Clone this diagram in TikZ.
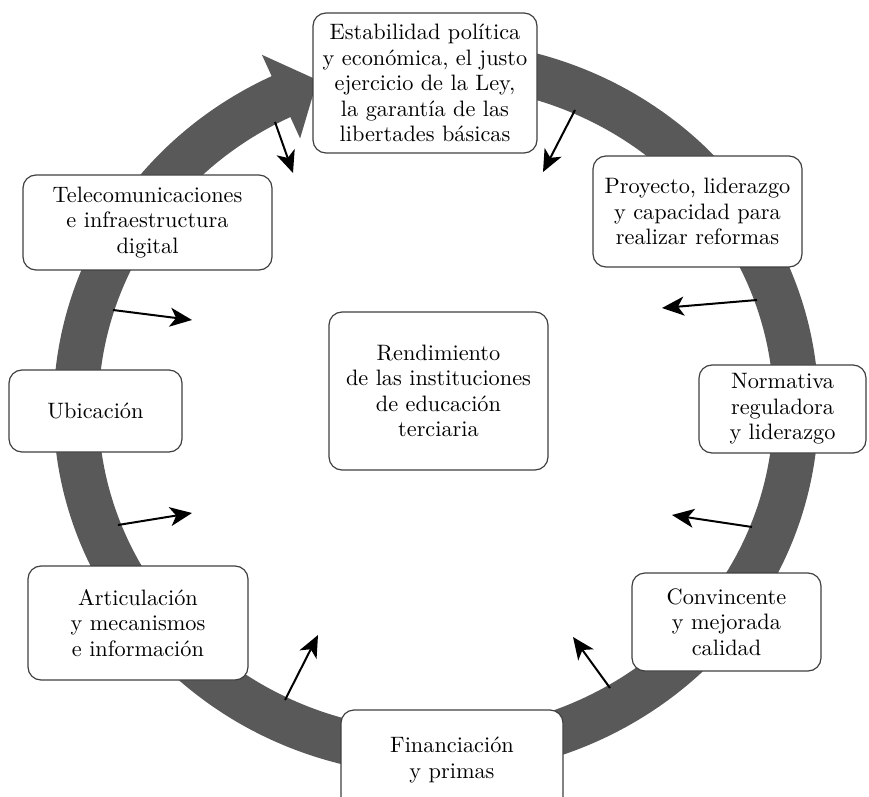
\documentclass[tikz,border=0pt]{standalone}
\usepackage{fontspec}
\setmainfont{lmroman10-regular.otf}
\usetikzlibrary{arrows.meta}
\definecolor{ringgray}{RGB}{89,89,89}
\definecolor{boxline}{RGB}{64,64,64}
\tikzset{
	every node/.style={font=\fontsize{22.3}{25.5}\selectfont},
	box/.style={
		draw=boxline,
		line width=1.2pt,
		rounded corners=13pt,
		fill=white,
		align=center,
		inner sep=0pt
	},
	push/.style={
		draw,
		-{Stealth[length=22pt,width=19pt,inset=6pt]},
		line width=2pt
	}
}

\begin{document}
\begin{tikzpicture}[x=1pt,y=1pt]
	\clip (0,0) rectangle (869,796);
	\coordinate (hub) at (436,388);
	% the turning ring with its head
	\draw[ringgray, line width=45pt] ([shift={(80:360 and 345)}]hub)
		arc[start angle=80, end angle=-245, x radius=360, y radius=345];
	\fill[ringgray] (261.9,741.2) -- (317.4,716.0) -- (300.1,657.6) -- cycle;

	% arrows from the ring
	\coordinate (stab-a) at (275,674);   \coordinate (stab-b) at (293,623);
	\coordinate (stab-c) at (575,686);   \coordinate (stab-d) at (543,624);
	\coordinate (proy-a) at (757,496);   \coordinate (proy-b) at (662,488);
	\coordinate (tele-a) at (113,486);   \coordinate (tele-b) at (192,476);
	\coordinate (arti-a) at (118,271);   \coordinate (arti-b) at (192,283);
	\coordinate (conv-a) at (752,269);   \coordinate (conv-b) at (672,281);
	\coordinate (fina-a) at (285,96);    \coordinate (fina-b) at (318,161);
	\coordinate (fina-c) at (610,108);   \coordinate (fina-d) at (573,159);
	\draw[push] (stab-a) -- (stab-b);
	\draw[push] (stab-c) -- (stab-d);
	\draw[push] (proy-a) -- (proy-b);
	\draw[push] (tele-a) -- (tele-b);
	\draw[push] (arti-a) -- (arti-b);
	\draw[push] (conv-a) -- (conv-b);
	\draw[push] (fina-a) -- (fina-b);
	\draw[push] (fina-c) -- (fina-d);

	% boxes
	\node[box, minimum width=224pt, minimum height=140pt] (stab) at (425,713) {Estabilidad política\\y económica, el justo\\ejercicio de la Ley,\\la garantía de las\\libertades básicas};
	\node[box, minimum width=249pt, minimum height=95pt] (tele) at (147.5,573.5) {Telecomunicaciones\\e infraestructura\\digital};
	\node[box, minimum width=173pt, minimum height=82pt] (ubic) at (95.5,385) {Ubicación};
	\node[box, minimum width=209pt, minimum height=111pt] (proy) at (697.5,584.5) {Proyecto, liderazgo\\y capacidad para\\realizar reformas};
	\node[box, minimum width=167pt, minimum height=88pt] (norm) at (782.5,387) {Normativa\\reguladora\\y liderazgo};
	\node[box, minimum width=220pt, minimum height=114pt] (arti) at (138,173) {Articulación\\y mecanismos\\e información};
	\node[box, minimum width=189pt, minimum height=98pt] (conv) at (726.5,174) {Convincente\\y mejorada\\calidad};
	\node[box, minimum width=222pt, minimum height=100pt] (fina) at (452,36) {Financiación\\y primas};
	\node[box, minimum width=219pt, minimum height=158pt] (rend) at (438.5,405) {Rendimiento\\de las instituciones\\de educación\\terciaria};
\end{tikzpicture}
\end{document}
